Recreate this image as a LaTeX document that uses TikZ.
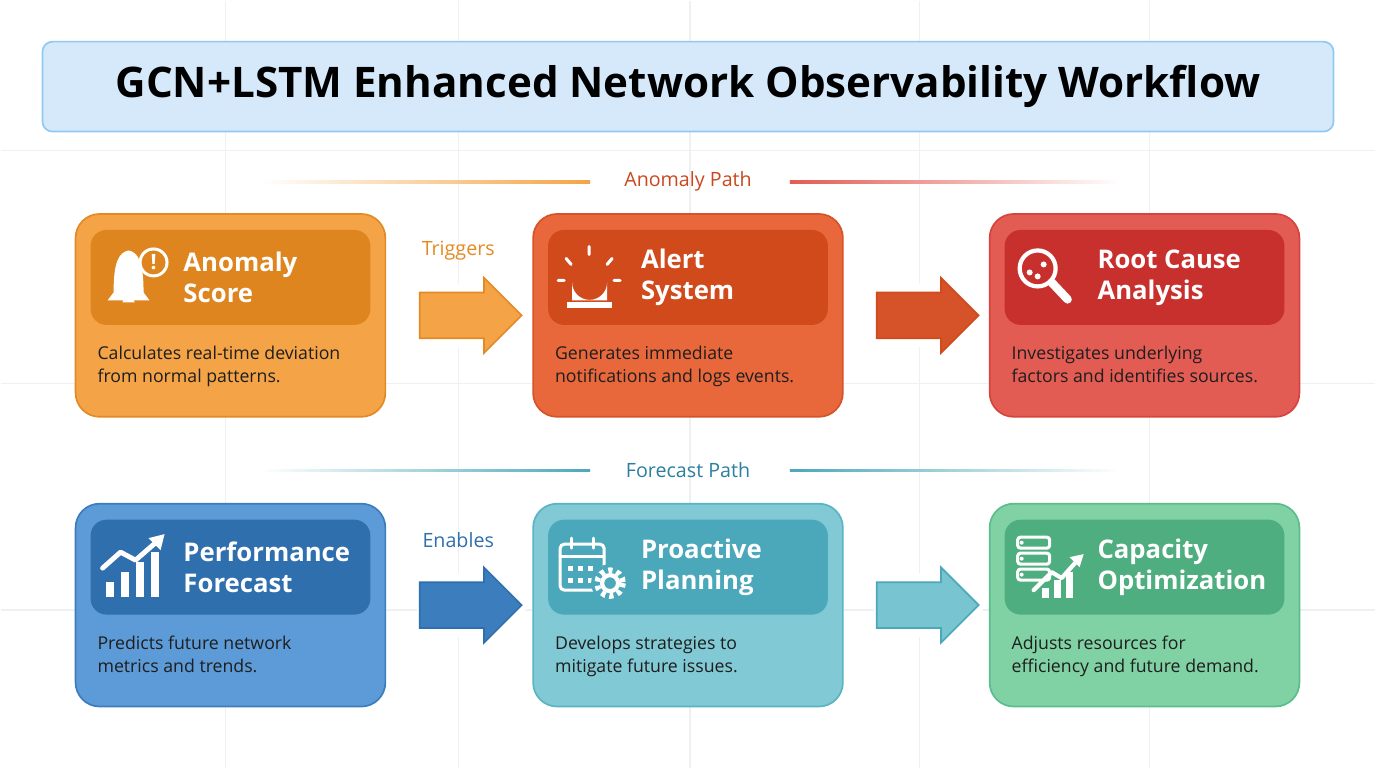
\documentclass[tikz,border=0pt]{standalone}
\usepackage{fontspec}
\setmainfont{Open Sans}
\usetikzlibrary{shapes.arrows,positioning,calc}
\definecolor{gridc}{HTML}{EEF0F3}
\definecolor{ttlfill}{HTML}{D5E9FB}
\definecolor{ttldraw}{HTML}{93C8F0}
\definecolor{orA}{HTML}{F4A446}\definecolor{orB}{HTML}{DF851F}\definecolor{orC}{HTML}{E48A25}
\definecolor{rdA}{HTML}{E8683B}\definecolor{rdB}{HTML}{D04A1C}\definecolor{rdC}{HTML}{D6532A}
\definecolor{crA}{HTML}{E35C54}\definecolor{crB}{HTML}{C8302D}\definecolor{crC}{HTML}{D6443E}
\definecolor{blA}{HTML}{5C9BD7}\definecolor{blB}{HTML}{2F6FAE}\definecolor{blC}{HTML}{3C7DBE}
\definecolor{tlA}{HTML}{80C9D5}\definecolor{tlB}{HTML}{4BA8BA}\definecolor{tlC}{HTML}{5AB4C4}
\definecolor{gnA}{HTML}{80D2A5}\definecolor{gnB}{HTML}{4FAE7F}\definecolor{gnC}{HTML}{5CBD8C}
\definecolor{pathA}{HTML}{C9481F}
\definecolor{pathB}{HTML}{2B7F9F}
\definecolor{bodytext}{HTML}{1E1E1E}
\begin{document}
\begin{tikzpicture}[x=0.025cm,y=-0.025cm,
        card/.style = {rounded corners=0.6cm, line width=1.2pt, minimum width=7.75cm, minimum height=5.075cm},
        head/.style = {rounded corners=0.4cm, minimum width=7cm, minimum height=2.375cm},
        headtxt/.style = {anchor=west, align=left, text=white, font=\bfseries\fontsize{18.3}{22}\selectfont},
        body/.style = {anchor=north west, align=left, text=bodytext, font=\fontsize{12.6}{16.5}\selectfont},
        pathlbl/.style = {font=\fontsize{14}{16}\selectfont},
        steplbl/.style = {font=\fontsize{14}{16}\selectfont},
        MyArrow/.style = {single arrow, line width=1.2pt, minimum width=1.85cm, minimum height=2.55cm,
                          inner sep=0mm, text height=0.55cm, text depth=0.55cm, single arrow head extend=0.37cm},
        halo/.style = {MyArrow, draw=white, line width=7pt},
        icon/.style = {white, line width=2.2pt, line cap=round, line join=round}]
    % background grid
    \fill[white] (0,0) rectangle (1376,768);
    \foreach \gx in {225,458,690,920,1150}
        \draw[gridc, line width=1pt] (\gx,0) -- (\gx,768);
    \foreach \gy in {150,383,610}
        \draw[gridc, line width=1pt] (0,\gy) -- (1376,\gy);
    % title
    \node[draw=ttldraw, fill=ttlfill, line width=1.2pt, rounded corners=0.25cm,
          minimum width=32.3cm, minimum height=2.25cm] (title) at (688,86) {};
    \node[font=\bfseries\fontsize{30}{33}\selectfont] at (title) {GCN+LSTM Enhanced Network Observability Workflow};
    % path labels
    \node[pathlbl, text=pathA] (apath) at (688,181) {Anomaly Path};
    \shade[left color=white, right color=orA] (260,180) rectangle (590,182.5);
    \shade[left color=crA, right color=white] (790,180) rectangle (1120,182.5);
    \node[pathlbl, text=pathB] (fpath) at (688,470) {Forecast Path};
    \shade[left color=white, right color=tlB] (260,469) rectangle (590,471.5);
    \shade[left color=tlB, right color=white] (790,469) rectangle (1120,471.5);
    % cards
    \foreach \nm/\cx/\cy/\ca/\cb/\cc/\ttl/\txt in {
        score/230/315/orA/orB/orC/{Anomaly\\Score}/{Calculates real-time deviation\\from normal patterns.},
        alert/688/315/rdA/rdB/rdC/{Alert\\System}/{Generates immediate\\notifications and logs events.},
        root/1145/315/crA/crB/crC/{Root Cause\\Analysis}/{Investigates underlying\\factors and identifies sources.},
        perf/230/605/blA/blB/blC/{Performance\\Forecast}/{Predicts future network\\metrics and trends.},
        plan/688/605/tlA/tlB/tlC/{Proactive\\Planning}/{Develops strategies to\\mitigate future issues.},
        capa/1145/605/gnA/gnB/gnC/{Capacity\\Optimization}/{Adjusts resources for\\efficiency and future demand.}}
    {
        \node[card, fill=\ca, draw=\cc] (\nm) at (\cx,\cy) {};
        \node[head, fill=\cb] (\nm-h) at (\cx,\cy-38) {};
        \node[headtxt] at (\cx-52,\cy-38) {\ttl};
        \node[body] at (\cx-138,\cy+26) {\txt};
    }
    % arrows
    \foreach \an/\fa/\ta/\ac/\ad in {a1/score/alert/orA/orC, a2/alert/root/rdC/rdB,
                                     a3/perf/plan/blC/blB, a4/plan/capa/tlA!85!tlB/tlB}
    {
        \node[halo] at ($(\fa.east)!0.5!(\ta.west)$) {};
        \node[MyArrow, fill=\ac, draw=\ad] (\an) at ($(\fa.east)!0.5!(\ta.west)$) {};
    }
    \node[steplbl, text=orC] at (458,250) {Triggers};
    \node[steplbl, text=blB] at (458,540) {Enables};
    % icons: bell
    \fill[white] (107,300) -- (113,292) .. controls (113,262) and (118,252) .. (128,250)
        .. controls (138,252) and (143,262) .. (143,292) -- (149,300) -- cycle;
    \fill[white] (122,302) arc[start angle=180, end angle=360, radius=6];
    \fill[white] (153,262) circle (15);
    \fill[orB] (153,262) circle (12);
    \node[white, font=\bfseries\fontsize{15}{15}\selectfont] at (153,262) {!};
    % siren
    \fill[white] (567,302) rectangle (612,308);
    \fill[white] (572,300) -- (572,282) arc[start angle=180, end angle=0, radius=17.5] -- (607,300) -- cycle;
    \fill[rdB] (584,298) rectangle (595,283);
    \draw[icon] (589,246) -- (589,254) (566,258) -- (571,264) (612,258) -- (607,264) (558,280) -- (564,280) (614,280) -- (620,280);
    % magnifier
    \draw[icon, line width=3pt] (1038,268) circle (18);
    \draw[icon, line width=6pt] (1052,282) -- (1068,299);
    \fill[white] (1030,272) circle (3) (1044,264) circle (3) (1038,276) circle (3);
    % chart with arrow
    \foreach \bx/\bh in {105/15,120/25,135/35,150/45}
        \fill[white] (\bx,597) rectangle (\bx+8,597-\bh);
    \draw[icon, line width=3.5pt] (102,568) -- (120,552) -- (135,560) -- (158,540);
    \fill[white] (164,534) -- (148,538) -- (160,550) -- cycle;
    % calendar with gear
    \draw[icon, rounded corners=3pt] (560,544) rectangle (604,590);
    \draw[icon] (560,556) -- (604,556) (571,538) -- (571,548) (593,538) -- (593,548);
    \foreach \ix in {568,578,588} \foreach \iy in {566,578}
        \fill[white] (\ix,\iy) rectangle (\ix+5,\iy+5);
    \fill[tlB] (610,583) circle (19);
    \draw[white, line width=4pt, dash pattern=on 3pt off 3pt] (610,583) circle (13);
    \draw[icon, line width=3pt] (610,583) circle (8);
    % servers with chart
    \foreach \sy in {537,553,569}
        {\draw[icon, rounded corners=2pt] (1018,\sy) rectangle (1050,\sy+11);
         \fill[white] (1022,\sy+5.5) circle (2);}
    \foreach \bx/\bh in {1042/10,1054/18,1066/26}
        \fill[white] (\bx,598) rectangle (\bx+7,598-\bh);
    \draw[icon, line width=3pt] (1034,590) -- (1052,572) -- (1062,578) -- (1078,560);
    \fill[white] (1084,554) -- (1070,557) -- (1080,567) -- cycle;
\end{tikzpicture}
\end{document}
